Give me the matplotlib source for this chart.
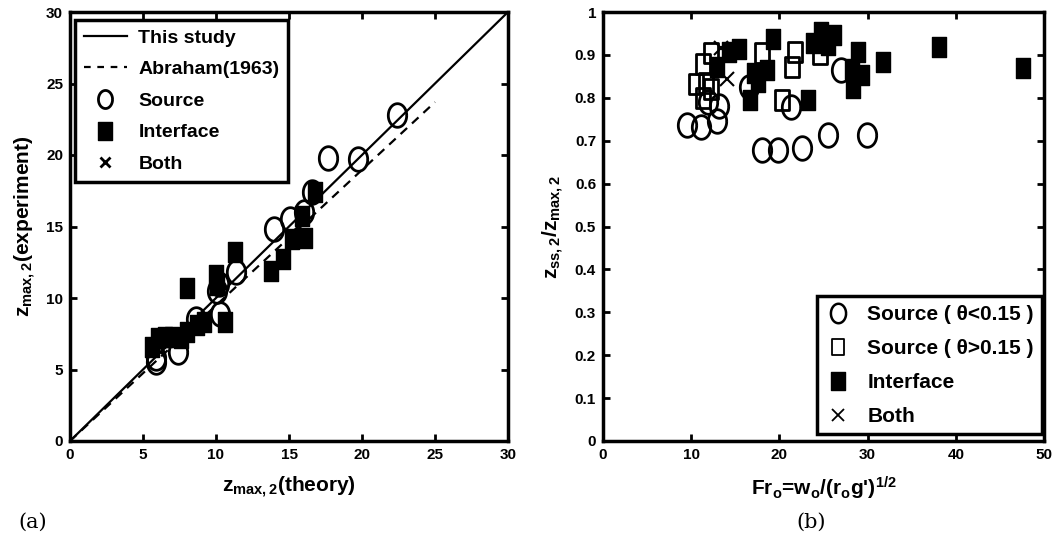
import numpy as np
import matplotlib
matplotlib.use("Agg")
import matplotlib.pyplot as plt
from matplotlib.path import Path
from matplotlib.lines import Line2D

# --- panel (a) data: z_max,2 theory vs experiment
src_a_x = [5.9, 5.9, 7.4, 8.6, 10.3, 10.1, 10.2, 11.4, 14.0, 15.1, 16.0, 16.6, 17.7, 19.7, 22.4]
src_a_y = [5.5, 5.8, 6.2, 8.5, 8.9, 10.5, 11.0, 11.8, 14.8, 15.5, 16.0, 17.4, 19.8, 19.7, 22.8]
int_a_x = [5.6, 6.0, 6.5, 7.0, 7.6, 8.0, 8.7, 9.2, 8.0, 10.0, 10.1, 10.6, 11.3, 13.8, 14.6, 15.2, 16.1, 15.9, 16.8]
int_a_y = [6.6, 7.2, 7.3, 7.3, 7.2, 7.6, 8.1, 8.3, 10.7, 11.6, 10.9, 8.3, 13.2, 11.9, 12.7, 14.1, 14.2, 15.7, 17.4]
both_a_x = [7.0, 7.3]
both_a_y = [7.5, 7.4]
study_x = [0, 30]
study_y = [0, 30]
abraham_x = [0, 25]
abraham_y = [0, 23.7]

# --- panel (b) data: z_ss,2/z_max,2 vs Fr_o
src1_b_x = [9.5, 11.1, 12.9, 13.2, 11.9, 16.5, 18.0, 19.8, 22.6, 21.3, 25.5, 27.0, 29.9]
src1_b_y = [0.737, 0.733, 0.747, 0.781, 0.79, 0.826, 0.678, 0.678, 0.683, 0.778, 0.713, 0.865, 0.713]
src2_b_x = [10.5, 11.7, 11.3, 12.2, 11.3, 12.3, 18.0, 21.8, 21.4, 20.3, 24.6]
src2_b_y = [0.832, 0.834, 0.80, 0.82, 0.878, 0.905, 0.905, 0.907, 0.872, 0.795, 0.902]
int_b_x = [12.9, 14.3, 15.4, 17.1, 17.6, 18.6, 19.3, 16.7, 23.2, 23.8, 24.7, 25.5, 26.2,
           28.9, 28.2, 29.4, 28.3, 31.7, 38.1, 47.6]
int_b_y = [0.872, 0.907, 0.914, 0.858, 0.836, 0.865, 0.937, 0.795, 0.795, 0.928, 0.953, 0.923, 0.946,
           0.907, 0.868, 0.853, 0.823, 0.883, 0.918, 0.87]
both_b_x = [13.4, 14.1]
both_b_y = [0.915, 0.843]

ticks_a = [0, 5, 10, 15, 20, 25, 30]
ticks_bx = [0, 10, 20, 30, 40, 50]
ticks_by = [0, 0.1, 0.2, 0.3, 0.4, 0.5, 0.6, 0.7, 0.8, 0.9, 1]
ticklabels_by = ["0", "0.1", "0.2", "0.3", "0.4", "0.5", "0.6", "0.7", "0.8", "0.9", "1"]

fnt = "Liberation Sans"
plt.rcParams["font.family"] = [fnt, "DejaVu Sans"]
plt.rcParams["font.weight"] = "bold"
plt.rcParams["axes.labelweight"] = "bold"
plt.rcParams["mathtext.fontset"] = "custom"
plt.rcParams["mathtext.rm"] = fnt + ":bold"
plt.rcParams["mathtext.bf"] = fnt + ":bold"
plt.rcParams["mathtext.it"] = fnt + ":bold"

# tall markers (the original picture is squeezed sideways)
t = np.linspace(0, 2 * np.pi, 64)
ellipse = Path(np.column_stack([0.78 * np.cos(t), np.sin(t)]))
tsq = Path([(-0.75, -1), (0.75, -1), (0.75, 1), (-0.75, 1), (-0.75, -1)],
           [Path.MOVETO, Path.LINETO, Path.LINETO, Path.LINETO, Path.CLOSEPOLY])

fig = plt.figure(figsize=(10.58, 5.39), dpi=100)
ax1 = fig.add_axes([70 / 1058, 98 / 539, 438 / 1058, 429 / 539])
ax2 = fig.add_axes([603 / 1058, 98 / 539, 441 / 1058, 429 / 539])

for ax in (ax1, ax2):
    for s in ax.spines.values():
        s.set_linewidth(2.5)
    ax.tick_params(direction="in", top=True, right=True, length=5, width=2,
                   labelsize=11, pad=5)

# ---- (a)
ax1.plot(study_x, study_y, "k-", lw=1.6)
ax1.plot(abraham_x, abraham_y, "k--", lw=1.6, dashes=(4, 3))
ax1.plot(src_a_x, src_a_y, ls="none", marker=ellipse, ms=17, mfc="none", mec="k", mew=2)
ax1.plot(int_a_x, int_a_y, ls="none", marker=tsq, ms=14, mfc="k", mec="k")
ax1.plot(both_a_x, both_a_y, ls="none", marker="x", ms=8, mec="k", mew=2)
ax1.set_xlim(0, 30)
ax1.set_ylim(0, 30)
ax1.set_xticks(ticks_a)
ax1.set_yticks(ticks_a)
ax1.set_xlabel(r"$\mathbf{z}_{\mathrm{max,2}}$(theory)", fontsize=15, labelpad=9)
ax1.set_ylabel(r"$\mathbf{z}_{\mathrm{max,2}}$(experiment)", fontsize=15, labelpad=6)

h1 = [Line2D([], [], color="k", lw=1.6),
      Line2D([], [], color="k", lw=1.6, ls="--", dashes=(3, 3)),
      Line2D([], [], ls="none", marker=ellipse, ms=13, mfc="none", mec="k", mew=2),
      Line2D([], [], ls="none", marker=tsq, ms=13, mfc="k", mec="k"),
      Line2D([], [], ls="none", marker="x", ms=7, mec="k", mew=2)]
leg1 = ax1.legend(h1, ["This study", "Abraham(1963)", "Source", "Interface", "Both"],
                  loc="upper left", bbox_to_anchor=(0.012, 0.981), borderaxespad=0,
                  fontsize=14, fancybox=False, edgecolor="k", framealpha=1,
                  handlelength=2.2, labelspacing=0.72, borderpad=0.45, handletextpad=0.6)
leg1.get_frame().set_linewidth(2.5)

# ---- (b)
ax2.plot(src1_b_x, src1_b_y, ls="none", marker=ellipse, ms=17, mfc="none", mec="k", mew=2)
ax2.plot(src2_b_x, src2_b_y, ls="none", marker=tsq, ms=14, mfc="none", mec="k", mew=2)
ax2.plot(int_b_x, int_b_y, ls="none", marker=tsq, ms=14, mfc="k", mec="k")
ax2.plot(both_b_x, both_b_y, ls="none", marker="x", ms=10, mec="k", mew=1.5)
ax2.set_xlim(0, 50)
ax2.set_ylim(0, 1)
ax2.set_xticks(ticks_bx)
ax2.set_yticks(ticks_by)
ax2.set_yticklabels(ticklabels_by)
ax2.set_xlabel(r"Fr$_\mathrm{o}$=w$_\mathrm{o}$/(r$_\mathrm{o}$g')$^\mathrm{1/2}$", fontsize=15, labelpad=9)
ax2.set_ylabel(r"$\mathbf{z}_{\mathrm{ss,2}}$/$\mathbf{z}_{\mathrm{max,2}}$", fontsize=15, labelpad=6)

h2 = [Line2D([], [], ls="none", marker=ellipse, ms=14, mfc="none", mec="k", mew=1.8),
      Line2D([], [], ls="none", marker=tsq, ms=12, mfc="none", mec="k", mew=1.3),
      Line2D([], [], ls="none", marker=tsq, ms=13, mfc="k", mec="k"),
      Line2D([], [], ls="none", marker="x", ms=9, mec="k", mew=1.3)]
leg2 = ax2.legend(h2, ["Source ( \u03b8<0.15 )", "Source ( \u03b8>0.15 )", "Interface", "Both"],
                  loc="lower right", bbox_to_anchor=(0.9955, 0.016), borderaxespad=0,
                  fontsize=15, fancybox=False, edgecolor="k", framealpha=1,
                  handlelength=1.2, labelspacing=0.72, borderpad=0.4, handletextpad=0.8)
leg2.get_frame().set_linewidth(2.5)

fig.text(18 / 1058, 1 - 522 / 539, "(a)", family="DejaVu Serif", weight="normal", fontsize=15, va="center")
fig.text(796 / 1058, 1 - 522 / 539, "(b)", family="DejaVu Serif", weight="normal", fontsize=15, va="center")

fig.savefig("out.png", dpi=100)
